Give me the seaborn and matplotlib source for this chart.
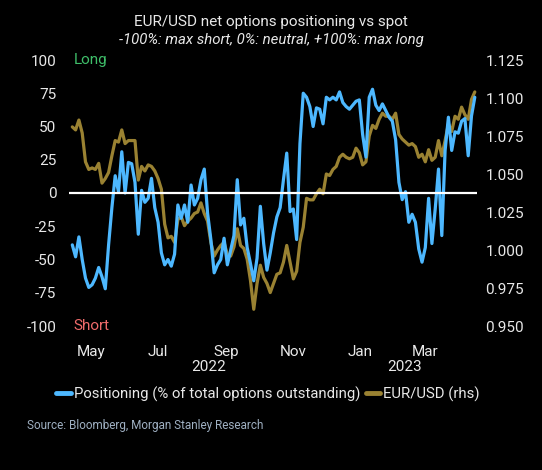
import numpy as np
import pandas as pd
import matplotlib
matplotlib.use("Agg")
import matplotlib.pyplot as plt
import matplotlib.dates as mdates
from matplotlib.lines import Line2D
import seaborn as sns

# ---------------- data ----------------
start_date = "2022-04-14"
step_days = 3

positioning = [
    -39, -48, -33, -50, -64, -71, -69, -64, -56, -63,
    -72, -39, -11, 13, 1, 31, 0, 23, 22, 8,
    -31, 2, -7, -4, 11, -11, -22, -45, -54, -50,
    -55, -46, -9, -19, -9, -22, 6, -9, -4, 10,
    18, -15, -35, -60, -54, -50, -34, -54, -43, -32,
    10, -24, -19, -41, -53, -66, -49, -10, -38, -58,
    -45, -30, -18, -11, 10, 30, -14, -12, -35, 37,
    75, 72, 65, 50, 64, 63, 52, 72, 70, 72,
    70, 76, 68, 65, 63, 66, 69, 70, 44, 27,
    72, 78, 66, 62, 67, 62, 57, 54, 40, 8,
    -5, 1, -22, -16, -22, -42, -52, -41, -4, -38,
    -12, 18, -32, 32, 57, 32, 46, 45, 54, 56,
    28, 58, 72,
]

eurusd = [
    1.081, 1.079, 1.0855, 1.077, 1.058, 1.053, 1.054, 1.053, 1.057, 1.044,
    1.047, 1.051, 1.062, 1.072, 1.071, 1.079, 1.070, 1.072, 1.072, 1.072,
    1.046, 1.055, 1.052, 1.056, 1.055, 1.052, 1.047, 1.040, 1.017, 1.008,
    1.009, 1.005, 1.020, 1.022, 1.016, 1.019, 1.021, 1.024, 1.025, 1.031,
    1.024, 1.019, 1.005, 0.996, 1.000, 1.003, 1.005, 0.997, 0.996, 1.002,
    1.014, 1.003, 1.001, 0.994, 0.980, 0.961, 0.978, 0.990, 0.982, 0.978,
    0.972, 0.978, 0.984, 0.985, 0.992, 1.003, 0.992, 0.981, 0.986, 1.005,
    1.015, 1.034, 1.033, 1.033, 1.037, 1.040, 1.037, 1.050, 1.049, 1.053,
    1.055, 1.061, 1.063, 1.061, 1.060, 1.061, 1.067, 1.064, 1.056, 1.058,
    1.075, 1.082, 1.080, 1.086, 1.090, 1.088, 1.088, 1.086, 1.090, 1.076,
    1.073, 1.071, 1.069, 1.070, 1.068, 1.061, 1.063, 1.058, 1.066, 1.059,
    1.061, 1.072, 1.062, 1.072, 1.083, 1.078, 1.088, 1.086, 1.094, 1.089,
    1.086, 1.099, 1.104,
]

left_ticks = [-100, -75, -50, -25, 0, 25, 50, 75, 100]
right_ticks = [0.950, 0.975, 1.000, 1.025, 1.050, 1.075, 1.100, 1.125]
month_ticks = ["2022-05-01", "2022-07-01", "2022-09-01", "2022-11-01", "2023-01-01", "2023-03-01"]
month_labels = ["May", "Jul", "Sep", "Nov", "Jan", "Mar"]
year_labels = ["2022", "2023"]
year_label_dates = ["2022-08-16", "2023-02-10"]

dates = pd.date_range(start_date, periods=len(positioning), freq=f"{step_days}D")
df = pd.DataFrame({"date": dates, "pos": positioning, "fx": eurusd})

# ---------------- style ----------------
sns.set_theme(style="dark")
plt.rcParams["font.family"] = ["Roboto", "DejaVu Sans"]
BLUE = "#4db8ff"
GOLD = "#9a8232"
FG = "#e8e8e8"

fig = plt.figure(figsize=(5.42, 4.70), dpi=100, facecolor="black")
ax = fig.add_axes([69 / 542, 1 - 326 / 470, (477 - 69) / 542, (326 - 60) / 470])
ax.set_facecolor("black")
ax2 = ax.twinx()

sns.lineplot(data=df, x="date", y="pos", ax=ax, color=BLUE, linewidth=2.3, zorder=3)
sns.lineplot(data=df, x="date", y="fx", ax=ax2, color=GOLD, linewidth=2.3, zorder=2)
ax.set_zorder(ax2.get_zorder() + 1)
ax.patch.set_visible(False)
ax2.patch.set_visible(True)
ax2.set_facecolor("black")

ax.axhline(0, color="white", linewidth=1.6, zorder=4)

ax.set_ylim(-100, 100)
ax2.set_ylim(0.95, 1.125)
ax.set_xlim(pd.Timestamp("2022-04-11"), pd.Timestamp("2023-04-17"))

ax.set_yticks(left_ticks)
ax.set_yticklabels([str(t) for t in left_ticks])
ax2.set_yticks(right_ticks)
ax2.set_yticklabels([f"{t:.3f}" for t in right_ticks])
ax.set_xticks(pd.to_datetime(month_ticks))
ax.set_xticklabels(month_labels)

for a in (ax, ax2):
    a.grid(False)
    a.set_xlabel("")
    a.set_ylabel("")
    for s in a.spines.values():
        s.set_visible(False)
    a.tick_params(colors=FG, labelsize=11, length=0)
ax.tick_params(axis="y", pad=9)
ax2.tick_params(axis="y", pad=6)
ax.tick_params(axis="x", pad=14)

xtr = ax.get_xaxis_transform()
for d, lab in zip(year_label_dates, year_labels):
    ax.text(pd.Timestamp(d), -0.155, lab, transform=xtr, ha="center", va="center",
            color=FG, fontsize=11)

ax.text(0.012, 1.0, "Long", transform=ax.transAxes, color="#3fbf6a", fontsize=11,
        ha="left", va="center")
ax.text(0.012, 0.0, "Short", transform=ax.transAxes, color="#ef6b6b", fontsize=11,
        ha="left", va="center")

fig.text(0.5, 1 - 22 / 470, "EUR/USD net options positioning vs spot", ha="center",
         va="center", color=FG, fontsize=11)
fig.text(0.5, 1 - 40 / 470, "-100%: max short, 0%: neutral, +100%: max long", ha="center",
         va="center", color=FG, fontsize=10.8, style="italic")

handles = [Line2D([], [], color=BLUE, linewidth=3.5),
           Line2D([], [], color=GOLD, linewidth=3.5)]
fig.legend(handles, ["Positioning (% of total options outstanding)", "EUR/USD (rhs)"],
           loc="center", bbox_to_anchor=(268 / 542, 1 - 394 / 470), ncol=2, frameon=False,
           fontsize=10.7, labelcolor=FG, handlelength=1.0, handletextpad=0.2,
           columnspacing=0.35)

fig.text(27 / 542, 1 - 425 / 470, "Source: Bloomberg, Morgan Stanley Research",
         ha="left", va="center", color="#9fb0c2", fontsize=8.5)

fig.savefig("out.png", dpi=100, facecolor="black")
